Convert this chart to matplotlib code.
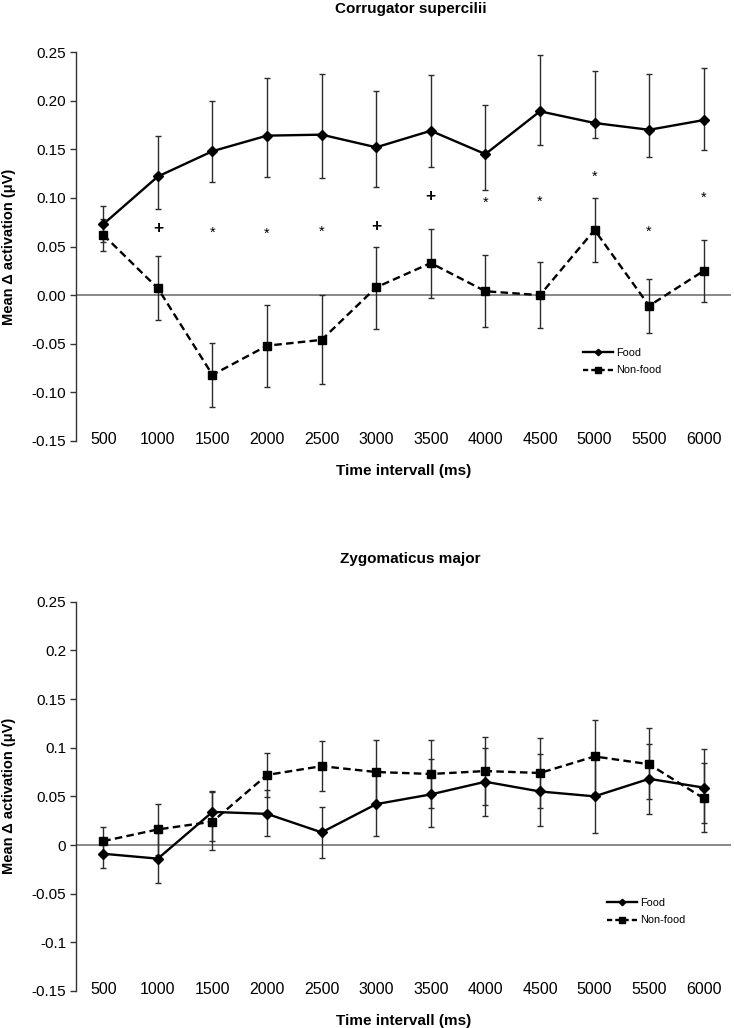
import matplotlib
matplotlib.use("Agg")
import matplotlib.pyplot as plt
from matplotlib.lines import Line2D
import numpy as np

plt.rcParams['font.family'] = ['Liberation Sans', 'DejaVu Sans']

intervals = ['500', '1000', '1500', '2000', '2500', '3000',
             '3500', '4000', '4500', '5000', '5500', '6000']

# Corrugator supercilii
cs_food = [0.073, 0.122, 0.148, 0.164, 0.165, 0.152, 0.169, 0.145, 0.189, 0.177, 0.170, 0.180]
cs_food_lo = [0.055, 0.089, 0.116, 0.121, 0.120, 0.111, 0.132, 0.108, 0.154, 0.162, 0.142, 0.149]
cs_food_hi = [0.092, 0.164, 0.200, 0.223, 0.227, 0.210, 0.226, 0.195, 0.247, 0.230, 0.227, 0.234]
cs_nonfood = [0.062, 0.007, -0.082, -0.052, -0.046, 0.008, 0.033, 0.004, 0.000, 0.067, -0.011, 0.025]
cs_nonfood_lo = [0.045, -0.026, -0.115, -0.094, -0.091, -0.035, -0.003, -0.033, -0.034, 0.034, -0.039, -0.007]
cs_nonfood_hi = [0.078, 0.040, -0.049, -0.010, 0.000, 0.050, 0.068, 0.041, 0.034, 0.100, 0.017, 0.057]
cs_sig = ['', '+', '*', '*', '*', '+', '+', '*', '*', '*', '*', '*']
cs_sig_y = [np.nan, 0.070, 0.069, 0.068, 0.070, 0.072, 0.103, 0.100, 0.101, 0.126, 0.070, 0.105]

# Zygomaticus major
zm_food = [-0.009, -0.014, 0.034, 0.032, 0.013, 0.042, 0.052, 0.065, 0.055, 0.050, 0.068, 0.059]
zm_food_lo = [-0.024, -0.039, 0.004, 0.009, -0.013, 0.009, 0.018, 0.030, 0.020, 0.012, 0.032, 0.023]
zm_food_hi = [0.006, 0.012, 0.056, 0.057, 0.039, 0.075, 0.088, 0.100, 0.094, 0.088, 0.104, 0.099]
zm_nonfood = [0.004, 0.016, 0.024, 0.072, 0.081, 0.075, 0.073, 0.076, 0.074, 0.091, 0.083, 0.048]
zm_nonfood_lo = [-0.011, -0.010, -0.005, 0.049, 0.055, 0.042, 0.038, 0.041, 0.038, 0.053, 0.047, 0.013]
zm_nonfood_hi = [0.019, 0.042, 0.054, 0.095, 0.107, 0.108, 0.108, 0.111, 0.110, 0.128, 0.120, 0.084]

yticks = [0.25, 0.20, 0.15, 0.10, 0.05, 0.0, -0.05, -0.10, -0.15]

fig = plt.figure(figsize=(7.34, 10.28), dpi=100)
W, H = 734, 1028

def make_axes(top_px, bottom_px):
    left, right = 76, 731
    return fig.add_axes([left / W, 1 - bottom_px / H, (right - left) / W, (bottom_px - top_px) / H])

ax1 = make_axes(52, 441)
ax2 = make_axes(601.7, 991)

def draw(ax, food, flo, fhi, nf, nlo, nhi, title, fmt, legend_x):
    x = np.arange(len(intervals))
    food = np.array(food); nf = np.array(nf)
    ferr = [food - np.array(flo), np.array(fhi) - food]
    nerr = [nf - np.array(nlo), np.array(nhi) - nf]
    ax.axhline(0, color='#7f7f7f', lw=1.3, zorder=1)
    ax.errorbar(x, food, yerr=ferr, fmt='none', ecolor='#2b2b2b', elinewidth=1.0,
                capsize=2.5, capthick=1.0, zorder=2)
    ax.errorbar(x, nf, yerr=nerr, fmt='none', ecolor='#2b2b2b', elinewidth=1.0,
                capsize=2.5, capthick=1.0, zorder=2)
    ax.plot(x, food, color='black', lw=1.7, marker='D', ms=4.8, zorder=3)
    ax.plot(x, nf, color='black', lw=1.7, ls=(0, (3.2, 1.8)), marker='s', ms=6.3, zorder=3)
    ax.set_xlim(-0.5, len(intervals) - 0.5)
    ax.set_ylim(-0.15, 0.25)
    ax.set_yticks(yticks)
    ax.set_yticklabels([fmt(v) for v in yticks])
    ax.set_xticks(x)
    ax.set_xticklabels(intervals)
    for s in ['top', 'right', 'bottom']:
        ax.spines[s].set_visible(False)
    ax.spines['left'].set_color('#333333')
    ax.spines['left'].set_linewidth(1.0)
    ax.tick_params(axis='y', direction='out', length=4, width=1.0, color='#333333',
                   labelsize=11, pad=3)
    ax.tick_params(axis='x', length=0, labelsize=11.5, pad=-6.5)
    ax.set_xlabel('Time intervall (ms)', fontsize=11, fontweight='bold', va='center')
    ax.xaxis.set_label_coords(0.5, -30 / 389)
    ax.set_ylabel('Mean \u0394 activation (\u03bcV)', fontsize=10.5, fontweight='bold', va='center')
    ax.yaxis.set_label_coords(-0.1027, 0.5)
    ax.text(0.511, 1 + 43 / 389, title, transform=ax.transAxes, ha='center', va='center',
            fontsize=11, fontweight='bold')
    handles = [Line2D([], [], color='black', lw=1.7, marker='D', ms=3.3),
               Line2D([], [], color='black', lw=1.7, ls=(0, (2.2, 1.3)), marker='s', ms=5)]
    ax.legend(handles, ['Food', 'Non-food'], loc='center left', bbox_to_anchor=(legend_x, 0.204),
              frameon=False, fontsize=7.8, handlelength=2.8, handletextpad=0.3,
              borderpad=0, borderaxespad=0, labelspacing=0.7)

draw(ax1, cs_food, cs_food_lo, cs_food_hi, cs_nonfood, cs_nonfood_lo, cs_nonfood_hi,
     'Corrugator supercilii', lambda v: f'{v:.2f}', 0.774)
draw(ax2, zm_food, zm_food_lo, zm_food_hi, zm_nonfood, zm_nonfood_lo, zm_nonfood_hi,
     'Zygomaticus major', lambda v: f'{v:g}', 0.810)

for i, (s, yv) in enumerate(zip(cs_sig, cs_sig_y)):
    if not s:
        continue
    fs = 10.5 if s == '*' else 12.5
    off = 0.58 * fs if s == '*' else 0.35 * fs
    ax1.annotate(s, (i, yv), xytext=(0, -off), textcoords='offset points',
                 ha='center', va='baseline', fontsize=fs,
                 fontweight='bold' if s == '+' else 'normal')

fig.savefig('out.png', dpi=100)
